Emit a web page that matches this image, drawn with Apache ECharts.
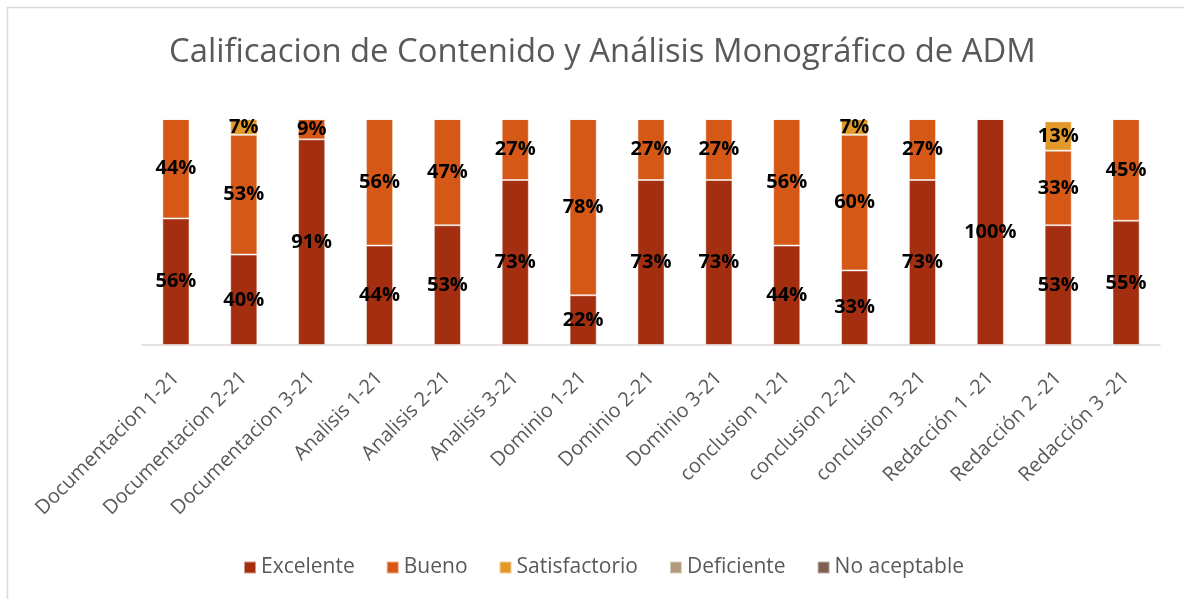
<!DOCTYPE html>
<html>
<head>
<meta charset="utf-8">
<script src="https://cdn.jsdelivr.net/npm/echarts@6/dist/echarts.min.js"></script>
<style>
  html, body { margin: 0; padding: 0; background: #fff; }
  #chart { width: 1184px; height: 599px; }
</style>
</head>
<body>
<div id="chart"></div>
<script>
var categories = [
    'Documentacion 1-21', 'Documentacion 2-21', 'Documentacion 3-21',
    'Analisis 1-21', 'Analisis 2-21', 'Analisis 3-21',
    'Dominio 1-21', 'Dominio 2-21', 'Dominio 3-21',
    'conclusion 1-21', 'conclusion 2-21', 'conclusion 3-21',
    'Redacción 1 -21', 'Redacción 2 -21', 'Redacción 3 -21'
];
var excelente = [56, 40, 91, 44, 53, 73, 22, 73, 73, 44, 33, 73, 100, 53, 55];
var bueno = [44, 53, 9, 56, 47, 27, 78, 27, 27, 56, 60, 27, 0, 33, 45];
var satisfactorio = [0, 7, 0, 0, 0, 0, 0, 0, 0, 0, 7, 0, 0, 13, 0];
var deficiente = [0, 0, 0, 0, 0, 0, 0, 0, 0, 0, 0, 0, 0, 0, 0];
var noAceptable = [0, 0, 0, 0, 0, 0, 0, 0, 0, 0, 0, 0, 0, 0, 0];

var seriesNames = ['Excelente', 'Bueno', 'Satisfactorio', 'Deficiente', 'No aceptable'];
var seriesColors = ['#A32E10', '#D55817', '#E2992A', '#B29B7C', '#7F5F52'];
var seriesData = [excelente, bueno, satisfactorio, deficiente, noAceptable];

var font = '"Open Sans", "Noto Sans", sans-serif';

function makeSeries(i) {
    return {
        name: seriesNames[i],
        type: 'bar',
        stack: 'total',
        barWidth: '40%',
        data: seriesData[i],
        itemStyle: {
            color: seriesColors[i],
            borderColor: 'rgba(255,255,255,0.5)',
            borderWidth: 1
        },
        label: {
            show: true,
            position: 'inside',
            color: '#000',
            fontFamily: font,
            fontWeight: 'bold',
            fontSize: 20,
            formatter: function (p) {
                return p.value > 0 ? p.value + '%' : '';
            }
        }
    };
}

var chart = echarts.init(document.getElementById('chart'));
chart.setOption({
    animation: false,
    title: {
        text: 'Calificacion de Contenido y Análisis Monográfico de ADM',
        left: 164,
        top: 31,
        textStyle: {
            color: '#595959',
            fontFamily: font,
            fontWeight: 'normal',
            fontSize: 32.8
        }
    },
    graphic: [{
        type: 'rect',
        shape: { x: 7.5, y: 7.5, width: 1200, height: 620 },
        style: { fill: 'none', stroke: '#D9D9D9', lineWidth: 1.5 },
        silent: true
    }],
    legend: {
        top: 552,
        left: 238,
        itemWidth: 12,
        itemHeight: 12,
        itemGap: 31,
        icon: 'rect',
        textStyle: {
            color: '#595959',
            fontFamily: font,
            fontSize: 21
        },
        data: seriesNames
    },
    grid: {
        left: 142,
        right: 24,
        top: 119,
        bottom: 254
    },
    xAxis: {
        type: 'category',
        data: categories,
        axisLine: { lineStyle: { color: '#D9D9D9', width: 1.5 } },
        axisTick: { show: false },
        axisLabel: {
            rotate: 45,
            interval: 0,
            margin: 30,
            color: '#595959',
            fontFamily: font,
            fontSize: 20
        }
    },
    yAxis: {
        type: 'value',
        min: 0,
        max: 100,
        show: false,
        splitLine: { show: false }
    },
    series: [0, 1, 2, 3, 4].map(makeSeries)
});
</script>
</body>
</html>
